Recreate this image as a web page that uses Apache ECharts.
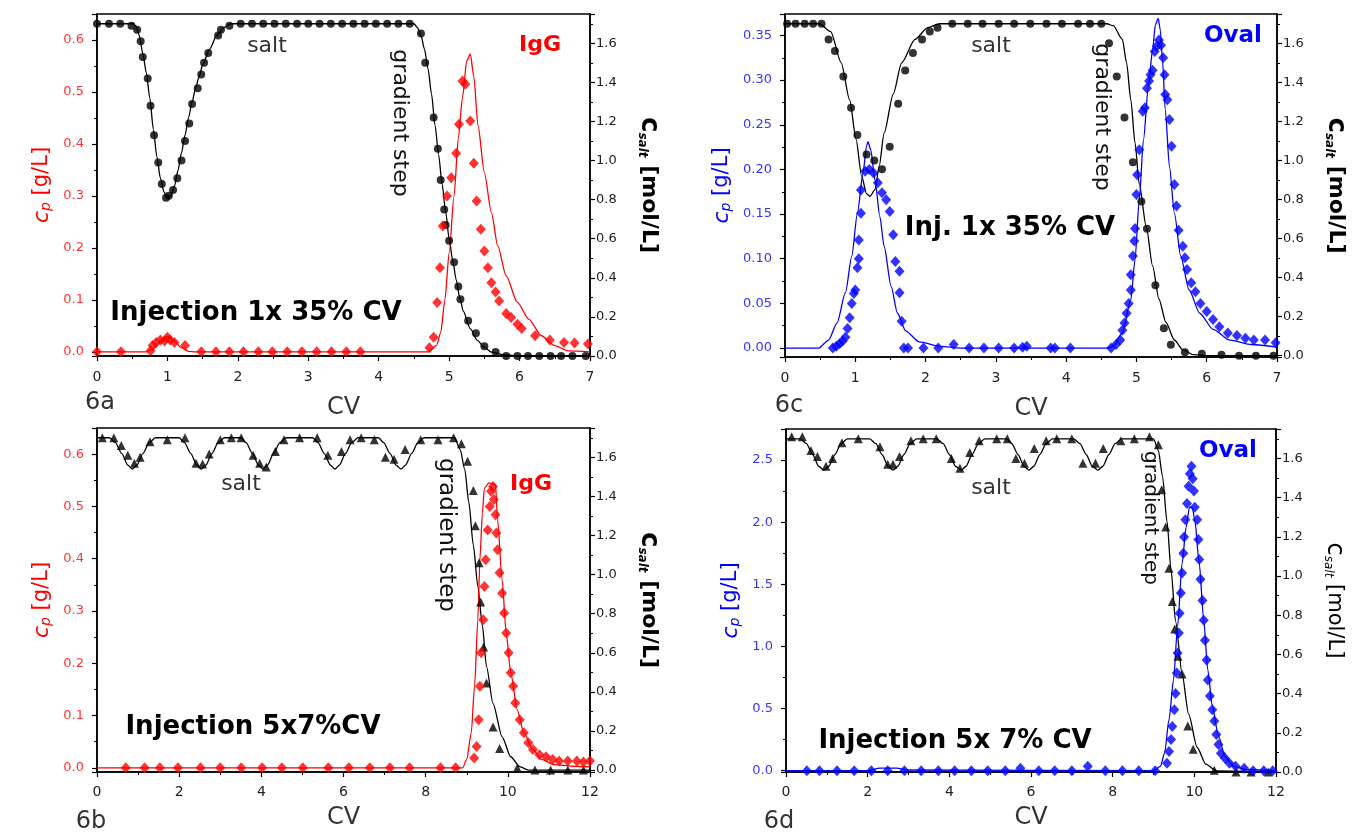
<!DOCTYPE html>
<html>
<head>
<meta charset="utf-8">
<script src="https://cdn.jsdelivr.net/npm/echarts@6/dist/echarts.min.js"></script>
<style>
html, body { margin: 0; padding: 0; background: #fff; }
#main { width: 1358px; height: 832px; }
</style>
</head>
<body>
<div id="main"></div>
<script>
// ---- 6a : IgG, injection 1x 35% CV ----
var saltLineA = [[0,1.70],[0.5,1.70],[0.55,1.69],[0.6,1.64],[0.65,1.55],[0.7,1.45],[0.75,1.32],[0.8,1.16],[0.85,1.02],[0.9,0.91],[0.95,0.84],[1.0,0.81],[1.05,0.82],[1.1,0.87],[1.15,0.95],[1.2,1.04],[1.25,1.13],[1.3,1.22],[1.35,1.30],[1.4,1.37],[1.45,1.43],[1.5,1.49],[1.6,1.57],[1.7,1.64],[1.8,1.68],[1.9,1.70],[4.5,1.70],[4.55,1.68],[4.6,1.64],[4.65,1.57],[4.7,1.47],[4.75,1.34],[4.8,1.18],[4.85,1.03],[4.9,0.88],[4.95,0.74],[5.0,0.60],[5.05,0.49],[5.1,0.39],[5.15,0.30],[5.2,0.23],[5.3,0.14],[5.4,0.08],[5.5,0.045],[5.6,0.02],[5.8,0.005],[6,0],[7,0]];
var saltPtsA = [[0,1.70],[0.17,1.70],[0.33,1.70],[0.49,1.69],[0.57,1.67],[0.62,1.61],[0.65,1.53],[0.72,1.42],[0.76,1.28],[0.81,1.13],[0.87,0.99],[0.92,0.88],[0.98,0.81],[1.02,0.82],[1.08,0.85],[1.14,0.91],[1.2,1.0],[1.25,1.10],[1.31,1.19],[1.35,1.29],[1.43,1.37],[1.48,1.44],[1.52,1.50],[1.58,1.55],[1.72,1.64],[1.76,1.67],[1.88,1.69],[2.04,1.70],[2.2,1.70],[2.36,1.70],[2.52,1.70],[2.68,1.70],[2.84,1.70],[3.0,1.70],[3.16,1.70],[3.32,1.70],[3.48,1.70],[3.64,1.70],[3.8,1.70],[3.96,1.70],[4.12,1.70],[4.28,1.70],[4.44,1.70],[4.6,1.65],[4.66,1.50],[4.78,1.22],[4.84,1.06],[4.88,0.90],[4.93,0.75],[4.95,0.67],[5.0,0.59],[5.07,0.48],[5.13,0.355],[5.16,0.29],[5.27,0.18],[5.38,0.116],[5.5,0.05],[5.66,0.02],[5.81,0],[5.97,0],[6.12,0],[6.28,0],[6.44,0],[6.59,0],[6.75,0],[6.94,0]];
var protLineA = [[0,0],[0.7,0],[0.8,0.006],[0.9,0.02],[1.0,0.03],[1.1,0.02],[1.2,0.008],[1.3,0.001],[1.4,0],[4.7,0],[4.82,0.012],[4.88,0.037],[4.94,0.10],[5.0,0.19],[5.07,0.30],[5.13,0.41],[5.19,0.49],[5.25,0.56],[5.3,0.573],[5.35,0.53],[5.41,0.435],[5.5,0.345],[5.6,0.268],[5.69,0.204],[5.81,0.146],[5.97,0.095],[6.13,0.063],[6.31,0.031],[6.5,0.012],[6.69,0.002],[7,0]];
var protPtsA = [[0,0],[0.34,0],[0.76,0.002],[0.79,0.012],[0.84,0.018],[0.9,0.023],[0.96,0.021],[1.0,0.028],[1.04,0.023],[1.1,0.018],[1.25,0.012],[1.48,0],[1.69,0],[1.88,0],[2.08,0],[2.29,0],[2.49,0],[2.7,0],[2.91,0],[3.12,0],[3.33,0],[3.54,0],[3.74,0],[4.72,0.008],[4.78,0.028],[4.83,0.095],[4.87,0.162],[4.91,0.242],[4.97,0.30],[5.03,0.335],[5.1,0.382],[5.14,0.438],[5.19,0.521],[5.23,0.515],[5.30,0.444],[5.35,0.363],[5.39,0.29],[5.45,0.236],[5.5,0.194],[5.55,0.162],[5.6,0.133],[5.66,0.115],[5.71,0.098],[5.81,0.074],[5.88,0.066],[5.97,0.053],[6.03,0.045],[6.22,0.031],[6.43,0.023],[6.63,0.018],[6.78,0.017],[6.97,0.015]];

// ---- 6c : Oval, injection 1x 35% CV ----
var saltLineC = [[0,1.70],[0.49,1.70],[0.65,1.66],[0.8,1.50],[0.92,1.31],[1.01,1.11],[1.09,0.92],[1.16,0.83],[1.21,0.816],[1.28,0.85],[1.34,0.97],[1.41,1.14],[1.54,1.34],[1.66,1.50],[1.85,1.62],[2.03,1.68],[2.2,1.70],[4.58,1.70],[4.67,1.69],[4.8,1.62],[4.86,1.50],[4.92,1.31],[4.98,1.09],[5.04,0.88],[5.14,0.66],[5.23,0.46],[5.32,0.29],[5.42,0.17],[5.54,0.08],[5.66,0.03],[5.81,0.005],[6,0],[7,0]];
var saltPtsC = [[0.03,1.70],[0.15,1.70],[0.28,1.70],[0.4,1.70],[0.52,1.70],[0.62,1.62],[0.71,1.56],[0.83,1.43],[0.94,1.27],[1.03,1.13],[1.16,1.03],[1.27,1.0],[1.38,0.955],[1.49,1.07],[1.61,1.29],[1.71,1.46],[1.82,1.55],[1.95,1.62],[2.06,1.66],[2.17,1.68],[2.38,1.70],[2.6,1.70],[2.81,1.70],[3.04,1.70],[3.26,1.70],[3.49,1.70],[3.72,1.70],[3.94,1.70],[4.17,1.70],[4.34,1.70],[4.5,1.70],[4.61,1.60],[4.72,1.43],[4.83,1.22],[4.95,0.99],[5.07,0.79],[5.15,0.65],[5.27,0.36],[5.39,0.14],[5.49,0.056],[5.69,0.017],[5.93,0.01],[6.21,0.005],[6.46,0],[6.7,0],[6.95,0]];
var protLineC = [[0,0],[0.48,0],[0.62,0.009],[0.74,0.028],[0.86,0.062],[0.95,0.103],[1.03,0.151],[1.11,0.196],[1.16,0.226],[1.18,0.231],[1.22,0.222],[1.28,0.188],[1.35,0.147],[1.41,0.114],[1.51,0.069],[1.6,0.039],[1.72,0.019],[1.91,0.007],[2.21,0.002],[2.5,0],[4.6,0],[4.67,0.002],[4.8,0.017],[4.92,0.054],[4.98,0.099],[5.04,0.166],[5.1,0.233],[5.17,0.293],[5.23,0.334],[5.27,0.362],[5.31,0.369],[5.34,0.356],[5.37,0.323],[5.41,0.267],[5.47,0.203],[5.54,0.151],[5.63,0.103],[5.75,0.065],[5.9,0.039],[6.09,0.021],[6.33,0.009],[6.64,0.004],[7,0.001]];
var protPtsC = [[0.68,0],[0.73,0.002],[0.78,0.005],[0.82,0.008],[0.86,0.012],[0.89,0.022],[0.92,0.034],[0.95,0.05],[0.98,0.061],[1.0,0.065],[1.03,0.09],[1.05,0.10],[1.05,0.121],[1.08,0.151],[1.08,0.177],[1.14,0.198],[1.2,0.20],[1.26,0.196],[1.32,0.185],[1.38,0.174],[1.44,0.166],[1.49,0.153],[1.54,0.127],[1.57,0.097],[1.63,0.086],[1.63,0.062],[1.66,0.03],[1.69,0],[1.75,0],[1.97,0],[2.18,0],[2.4,0.004],[2.62,0],[2.83,0],[3.04,0],[3.26,0],[3.38,0.001],[3.44,0.002],[3.78,0],[3.84,0],[4.06,0],[4.64,0],[4.71,0.004],[4.77,0.009],[4.8,0.02],[4.83,0.028],[4.86,0.039],[4.89,0.05],[4.92,0.065],[4.92,0.082],[4.95,0.103],[4.97,0.12],[4.98,0.134],[5.0,0.172],[5.01,0.194],[5.04,0.222],[5.09,0.265],[5.12,0.269],[5.15,0.291],[5.18,0.299],[5.2,0.306],[5.23,0.311],[5.26,0.332],[5.29,0.338],[5.32,0.345],[5.35,0.339],[5.38,0.325],[5.4,0.306],[5.41,0.284],[5.44,0.278],[5.47,0.256],[5.5,0.226],[5.54,0.183],[5.57,0.159],[5.6,0.132],[5.66,0.114],[5.69,0.101],[5.72,0.088],[5.78,0.073],[5.84,0.063],[5.91,0.05],[6.0,0.041],[6.09,0.032],[6.18,0.024],[6.3,0.017],[6.43,0.014],[6.55,0.011],[6.67,0.009],[6.83,0.009],[6.98,0.006]];

// ---- 6b : IgG, injection 5x 7% CV ----
var saltLineB = [[0,1.70],[0.3,1.70],[0.45,1.675],[0.6,1.62],[0.75,1.56],[0.86,1.54],[0.97,1.56],[1.12,1.62],[1.27,1.675],[1.42,1.70],[2.0,1.70],[2.13,1.675],[2.28,1.62],[2.43,1.56],[2.54,1.54],[2.65,1.56],[2.8,1.62],[2.95,1.675],[3.1,1.70],[3.5,1.70],[3.63,1.675],[3.78,1.62],[3.93,1.56],[4.04,1.54],[4.15,1.56],[4.3,1.62],[4.45,1.675],[4.6,1.70],[5.25,1.70],[5.38,1.675],[5.53,1.62],[5.68,1.56],[5.79,1.54],[5.9,1.56],[6.05,1.62],[6.2,1.675],[6.35,1.70],[6.85,1.70],[6.98,1.675],[7.13,1.62],[7.28,1.56],[7.4,1.54],[7.51,1.56],[7.66,1.62],[7.81,1.675],[7.96,1.70],[8.7,1.70],[8.84,1.64],[8.95,1.54],[9.05,1.37],[9.16,1.15],[9.27,0.94],[9.38,0.74],[9.48,0.53],[9.64,0.34],[9.86,0.17],[10.07,0.068],[10.29,0.017],[10.5,0],[12,0]];
var saltPtsB = [[0.13,1.70],[0.41,1.70],[0.59,1.66],[0.75,1.61],[0.91,1.57],[1.05,1.60],[1.29,1.68],[1.71,1.69],[2.14,1.70],[2.41,1.57],[2.57,1.566],[2.73,1.617],[3.0,1.69],[3.27,1.70],[3.51,1.70],[3.8,1.61],[3.96,1.57],[4.12,1.55],[4.34,1.63],[4.55,1.69],[4.93,1.70],[5.36,1.70],[5.62,1.61],[5.95,1.63],[6.16,1.69],[6.43,1.70],[6.75,1.69],[7.02,1.60],[7.23,1.59],[7.5,1.64],[7.88,1.69],[8.3,1.69],[8.68,1.70],[8.87,1.67],[9.02,1.58],[9.16,1.43],[9.21,1.25],[9.3,1.06],[9.34,0.86],[9.41,0.63],[9.48,0.445],[9.64,0.22],[9.8,0.11],[10.23,0.01],[10.66,0],[11.04,0],[11.46,0],[11.84,0]];
var protLineB = [[0,0],[8.9,0],[9.0,0.016],[9.11,0.067],[9.19,0.156],[9.27,0.283],[9.32,0.398],[9.38,0.487],[9.43,0.535],[9.54,0.545],[9.7,0.541],[9.75,0.475],[9.86,0.36],[9.96,0.258],[10.07,0.182],[10.23,0.111],[10.39,0.067],[10.61,0.035],[10.82,0.016],[11.14,0.006],[11.57,0.003],[12,0.002]];
var protPtsB = [[0.7,0],[1.16,0],[1.53,0],[1.97,0],[2.52,0],[3.0,0],[3.51,0],[4.02,0],[4.5,0],[5.01,0],[5.63,0],[6.13,0],[6.64,0],[7.13,0],[7.61,0],[8.36,0],[8.73,0],[9.18,0.019],[9.24,0.041],[9.29,0.092],[9.32,0.156],[9.35,0.22],[9.4,0.283],[9.43,0.347],[9.46,0.398],[9.51,0.455],[9.56,0.5],[9.59,0.529],[9.64,0.538],[9.66,0.513],[9.7,0.484],[9.72,0.449],[9.75,0.417],[9.8,0.373],[9.86,0.334],[9.91,0.296],[9.96,0.258],[10.02,0.22],[10.07,0.182],[10.13,0.156],[10.18,0.124],[10.29,0.092],[10.39,0.067],[10.5,0.048],[10.61,0.035],[10.77,0.025],[10.93,0.021],[11.09,0.016],[11.25,0.013],[11.46,0.013],[11.68,0.013],[11.84,0.011],[12.0,0.013]];

// ---- 6d : Oval, injection 5x 7% CV ----
var saltLineD = [[0,1.70],[0.35,1.70],[0.5,1.675],[0.65,1.62],[0.8,1.56],[0.93,1.54],[1.05,1.56],[1.2,1.62],[1.35,1.675],[1.5,1.70],[2.05,1.70],[2.2,1.675],[2.35,1.62],[2.5,1.56],[2.62,1.54],[2.74,1.56],[2.89,1.62],[3.04,1.675],[3.2,1.70],[3.7,1.70],[3.85,1.675],[4.0,1.62],[4.15,1.56],[4.29,1.54],[4.41,1.56],[4.56,1.62],[4.71,1.675],[4.87,1.70],[5.4,1.70],[5.53,1.675],[5.68,1.62],[5.83,1.56],[5.95,1.54],[6.07,1.56],[6.22,1.62],[6.37,1.675],[6.52,1.70],[7.05,1.70],[7.2,1.675],[7.35,1.62],[7.5,1.56],[7.64,1.54],[7.76,1.56],[7.91,1.62],[8.06,1.675],[8.22,1.70],[9.0,1.70],[9.12,1.64],[9.22,1.51],[9.33,1.28],[9.43,1.03],[9.54,0.77],[9.7,0.5],[9.86,0.295],[10.07,0.125],[10.28,0.04],[10.54,0.005],[12,0]];
var saltPtsD = [[0.14,1.71],[0.4,1.71],[0.61,1.64],[0.77,1.61],[0.98,1.56],[1.14,1.60],[1.37,1.68],[1.77,1.70],[2.3,1.66],[2.49,1.57],[2.62,1.57],[2.78,1.61],[3.06,1.69],[3.36,1.70],[3.68,1.70],[4.05,1.60],[4.26,1.55],[4.5,1.63],[4.73,1.69],[5.16,1.70],[5.42,1.70],[5.63,1.60],[5.84,1.575],[6.08,1.65],[6.37,1.69],[6.63,1.70],[7.0,1.70],[7.27,1.575],[7.58,1.575],[7.77,1.65],[8.2,1.69],[8.53,1.70],[8.9,1.71],[9.12,1.67],[9.2,1.44],[9.3,1.25],[9.38,1.04],[9.46,0.87],[9.52,0.73],[9.6,0.59],[9.7,0.5],[9.84,0.235],[9.97,0.116],[10.49,0.009],[11.02,0],[11.39,0],[11.81,0]];
var protLineD = [[0,0],[2.0,0],[2.3,0.02],[2.7,0.02],[3.0,0.005],[9.0,0],[9.17,0.035],[9.27,0.14],[9.38,0.41],[9.49,0.73],[9.59,1.16],[9.7,1.67],[9.8,1.96],[9.88,2.12],[9.95,2.12],[10.01,2.02],[10.12,1.67],[10.23,1.21],[10.33,0.81],[10.44,0.52],[10.59,0.28],[10.75,0.115],[10.96,0.035],[11.28,0.008],[12,0]];
var protPtsD = [[0.51,0],[0.82,0],[1.25,0],[1.67,0],[2.09,0],[2.49,0],[2.9,0],[3.31,0],[3.73,0],[4.13,0],[4.54,0],[4.94,0],[5.37,0],[5.74,0.02],[6.19,0],[6.58,0],[7.0,0],[7.39,0.035],[7.82,0],[8.24,0],[8.64,0],[9.04,0],[9.33,0.06],[9.38,0.155],[9.43,0.25],[9.46,0.356],[9.51,0.49],[9.54,0.62],[9.57,0.785],[9.59,0.946],[9.62,1.107],[9.64,1.267],[9.67,1.43],[9.7,1.59],[9.73,1.75],[9.75,1.88],[9.78,2.02],[9.82,2.15],[9.86,2.29],[9.89,2.39],[9.93,2.45],[9.96,2.35],[9.99,2.25],[10.01,2.12],[10.07,2.02],[10.1,1.86],[10.12,1.70],[10.15,1.54],[10.2,1.37],[10.23,1.21],[10.26,1.05],[10.3,0.89],[10.33,0.73],[10.38,0.6],[10.44,0.49],[10.49,0.40],[10.54,0.29],[10.59,0.21],[10.65,0.14],[10.75,0.10],[10.86,0.06],[11.01,0.035],[11.22,0.02],[11.44,0],[11.7,0],[11.92,0]];

var FONT = '"DejaVu Sans", Arial, sans-serif';
var RED = '#ff0000', BLUE = '#0000ff';
var RED_LBL = '#ff3535', BLUE_LBL = '#3535ff';

var chart = echarts.init(document.getElementById('main'));

function gridBox(left, top, width, height) {
  return { left: left, top: top, width: width, height: height, show: true,
    borderColor: '#000', borderWidth: 1.5, backgroundColor: 'transparent' };
}

function xAx(gi, max, interval, nameGap, margin) {
  return {
    type: 'value', gridIndex: gi, min: 0, max: max, interval: interval,
    name: 'CV', nameLocation: 'middle', nameGap: nameGap,
    nameTextStyle: { fontFamily: FONT, fontSize: 24, color: '#333' },
    axisLine: { show: true, onZero: false, lineStyle: { color: '#000', width: 1.5 } },
    axisTick: { show: true, length: 5, lineStyle: { color: '#000', width: 1.2 } },
    minorTick: { show: true, splitNumber: 2, length: 3, lineStyle: { color: '#000', width: 1 } },
    axisLabel: { fontFamily: FONT, fontSize: 14, color: '#222', margin: margin },
    splitLine: { show: false }
  };
}

function stepFormatter(step, digits) {
  return function (v) {
    var q = v / step;
    return Math.abs(q - Math.round(q)) < 1e-6 ? v.toFixed(digits) : '';
  };
}

function yAx(gi, pos, min, max, split, step, digits, lblColor, name, rich, nameGap, rot) {
  return {
    type: 'value', gridIndex: gi, position: pos, min: min, max: max, splitNumber: split,
    name: name, nameLocation: 'middle', nameGap: nameGap, nameRotate: rot,
    nameTextStyle: { rich: rich },
    axisLine: { show: true, onZero: false, lineStyle: { color: '#000', width: 1.5 } },
    axisTick: { show: true, length: 5, lineStyle: { color: '#000', width: 1.2 } },
    minorTick: { show: true, splitNumber: 2, length: 3, lineStyle: { color: '#000', width: 1 } },
    axisLabel: { fontFamily: FONT, fontSize: 13, color: lblColor, margin: pos === 'left' ? 13 : 6,
      formatter: stepFormatter(step, digits) },
    splitLine: { show: false }
  };
}

function cpRich(color) {
  return {
    c: { fontFamily: FONT, fontSize: 22, fontStyle: 'italic', color: color },
    p: { fontFamily: FONT, fontSize: 14, fontStyle: 'italic', color: color, verticalAlign: 'bottom', lineHeight: 14 },
    u: { fontFamily: FONT, fontSize: 21, color: color }
  };
}
function saltRich(bold) {
  var w = bold ? 'bold' : 'normal';
  return {
    c: { fontFamily: FONT, fontSize: bold ? 26 : 24, fontWeight: w, color: '#000' },
    s: { fontFamily: FONT, fontSize: 12, fontStyle: 'italic', fontWeight: w, color: '#000', verticalAlign: 'bottom', lineHeight: 12 },
    u: { fontFamily: FONT, fontSize: bold ? 22 : 21, fontWeight: w, color: '#000' }
  };
}
var CP_NAME = '{c|c}{p|p}{u| [g/L]}';
var SALT_NAME = '{c|c}{s|salt}{u| [mol/L]}';

function lineS(data, gi, yi, color) {
  return { type: 'line', xAxisIndex: gi, yAxisIndex: yi, data: data, symbol: 'none',
    smooth: 0.25, smoothMonotone: 'x', lineStyle: { color: color, width: 1.3 }, z: 2, silent: true };
}
function markS(data, gi, yi, symbol, size, color) {
  return { type: 'scatter', xAxisIndex: gi, yAxisIndex: yi, data: data, symbol: symbol,
    symbolSize: size, itemStyle: { color: color }, z: 3, silent: true };
}

function txt(x, y, text, font, color, rot, align) {
  return { type: 'text', x: x, y: y, rotation: rot || 0, silent: true,
    style: { text: text, font: font, fill: color, align: align || 'center', verticalAlign: 'middle' } };
}

var BOLD_BIG = 'bold 26px "DejaVu Sans"';
var PLAIN = '22px "DejaVu Sans"';

var option = {
  animation: false,
  backgroundColor: '#fff',
  grid: [
    gridBox(97, 14, 493, 342),
    gridBox(785, 14, 492, 343),
    gridBox(97, 428, 493, 344),
    gridBox(786, 429, 490, 343)
  ],
  xAxis: [
    xAx(0, 7, 1, 40, 14),
    xAx(1, 7, 1, 40, 14),
    xAx(2, 12, 2, 34, 13),
    xAx(3, 12, 2, 34, 13)
  ],
  yAxis: [
    yAx(0, 'left', -0.008, 0.65, 7, 0.1, 1, RED_LBL, CP_NAME, cpRich(RED), 44, 90),
    yAx(0, 'right', 0, 1.75, 9, 0.2, 1, '#222', SALT_NAME, saltRich(true), 46, -90),
    yAx(1, 'left', -0.01, 0.374, 8, 0.05, 2, BLUE_LBL, CP_NAME, cpRich(BLUE), 52, 90),
    yAx(1, 'right', -0.007, 1.75, 9, 0.2, 1, '#222', SALT_NAME, saltRich(true), 46, -90),
    yAx(2, 'left', -0.008, 0.65, 7, 0.1, 1, RED_LBL, CP_NAME, cpRich(RED), 44, 90),
    yAx(2, 'right', -0.01, 1.75, 9, 0.2, 1, '#222', SALT_NAME, saltRich(true), 46, -90),
    yAx(3, 'left', -0.011, 2.75, 6, 0.5, 1, BLUE_LBL, CP_NAME, cpRich(BLUE), 44, 90),
    yAx(3, 'right', 0, 1.75, 9, 0.2, 1, '#222', SALT_NAME, saltRich(false), 46, -90)
  ],
  series: [
    lineS(saltLineA, 0, 1, '#000'),
    lineS(protLineA, 0, 0, RED),
    markS(saltPtsA, 0, 1, 'circle', 8, '#000'),
    markS(protPtsA, 0, 0, 'diamond', [10, 11], RED),

    lineS(saltLineC, 1, 3, '#000'),
    lineS(protLineC, 1, 2, BLUE),
    markS(saltPtsC, 1, 3, 'circle', 8, '#000'),
    markS(protPtsC, 1, 2, 'diamond', [10, 11], BLUE),

    lineS(saltLineB, 2, 5, '#000'),
    lineS(protLineB, 2, 4, RED),
    markS(saltPtsB, 2, 5, 'triangle', 9, '#000'),
    markS(protPtsB, 2, 4, 'diamond', [10, 11], RED),

    lineS(saltLineD, 3, 7, '#000'),
    lineS(protLineD, 3, 6, BLUE),
    markS(saltPtsD, 3, 7, 'triangle', 9, '#000'),
    markS(protPtsD, 3, 6, 'diamond', [10, 11], BLUE)
  ],
  graphic: [
    // 6a
    txt(267, 46, 'salt', PLAIN, '#333'),
    txt(400, 123, 'gradient step', PLAIN, '#111', -Math.PI / 2),
    txt(540, 45, 'IgG', 'bold 22px "DejaVu Sans"', RED),
    txt(256, 313, 'Injection 1x 35% CV', BOLD_BIG, '#000'),
    txt(100, 403, '6a', '24px "DejaVu Sans"', '#333'),
    // 6c
    txt(991, 46, 'salt', PLAIN, '#333'),
    txt(1102, 117, 'gradient step', PLAIN, '#111', -Math.PI / 2),
    txt(1233, 36, 'Oval', 'bold 23px "DejaVu Sans"', BLUE),
    txt(1010, 228, 'Inj. 1x 35% CV', BOLD_BIG, '#000'),
    txt(789, 406, '6c', '24px "DejaVu Sans"', '#333'),
    // 6b
    txt(241, 484, 'salt', PLAIN, '#333'),
    txt(446, 535, 'gradient step', '23px "DejaVu Sans"', '#111', -Math.PI / 2),
    txt(531, 484, 'IgG', 'bold 22px "DejaVu Sans"', RED),
    txt(253, 727, 'Injection 5x7%CV', BOLD_BIG, '#000'),
    txt(91, 822, '6b', '24px "DejaVu Sans"', '#333'),
    // 6d
    txt(991, 488, 'salt', PLAIN, '#333'),
    txt(1150, 518, 'gradient step', '20px "DejaVu Sans"', '#111', -Math.PI / 2),
    txt(1228, 451, 'Oval', 'bold 23px "DejaVu Sans"', BLUE),
    txt(955, 741, 'Injection 5x 7% CV', BOLD_BIG, '#000'),
    txt(779, 822, '6d', '24px "DejaVu Sans"', '#333')
  ]
};

chart.setOption(option);
window.addEventListener('resize', function () {
  chart.resize();
});
</script>
</body>
</html>
